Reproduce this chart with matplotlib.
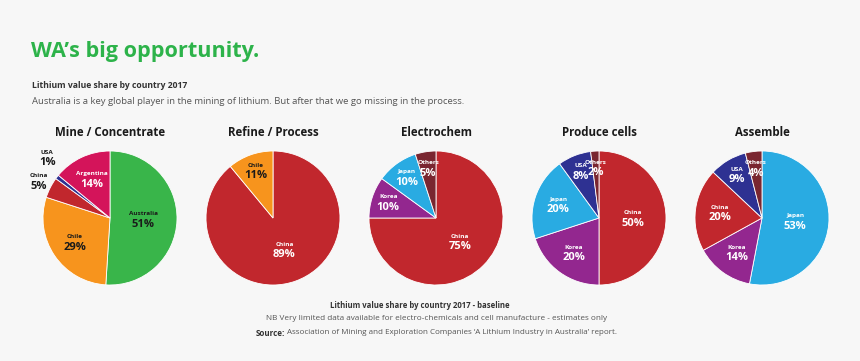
import numpy as np
import matplotlib.pyplot as plt

# data
stages = ["Mine / Concentrate", "Refine / Process", "Electrochem", "Produce cells", "Assemble"]
countries = [
    ["Australia", "Chile", "China", "USA", "Argentina"],
    ["China", "Chile"],
    ["China", "Korea", "Japan", "Others"],
    ["China", "Korea", "Japan", "USA", "Others"],
    ["Japan", "Korea", "China", "USA", "Others"],
]
shares = [
    [51, 29, 5, 1, 14],
    [89, 11],
    [75, 10, 10, 5],
    [50, 20, 20, 8, 2],
    [53, 14, 20, 9, 4],
]

colors = {
    "Australia": "#39b54a",
    "Chile": "#f7941d",
    "China": "#c1272d",
    "USA": "#2e3192",
    "Argentina": "#d4145a",
    "Korea": "#93278f",
    "Japan": "#29abe2",
    "Others": "#7a2630",
}
dark_text = {"Australia", "Chile"}
# (radius factor, extra angle in degrees) for labels drawn outside the pie
outside = {(0, "China"): (1.2, 0), (0, "USA"): (1.3, 6)}

W, H = 860, 361
bg = "#f7f7f7"
plt.rcParams["font.family"] = ["Open Sans", "DejaVu Sans"]

fig = plt.figure(figsize=(W / 100, H / 100), dpi=100, facecolor=bg)
ax = fig.add_axes([0, 0, 1, 1])
ax.set_facecolor(bg)

centers_x = [110, 273, 436, 599, 762]
cy = H - 218
R = 67

for i, stage in enumerate(stages):
    cx = centers_x[i]
    vals = shares[i]
    cols = [colors[c] for c in countries[i]]
    ax.pie(vals, colors=cols, startangle=90, counterclock=False, center=(cx, cy),
           radius=R, frame=True, wedgeprops=dict(edgecolor="white", linewidth=0.6))
    ax.text(cx, H - 132, stage, ha="center", va="center", fontsize=8.3,
            fontweight="bold", color="#1a1a1a")

    cum = np.cumsum([0] + vals)
    total = cum[-1]
    for j, name in enumerate(countries[i]):
        mid = (cum[j] + cum[j + 1]) / 2 / total
        deg = 90 - 360 * mid
        v = vals[j]
        if (i, name) in outside:
            r, extra = outside[(i, name)]
            deg -= extra
            tc = "#1a1a1a"
        else:
            r = 0.5 if v >= 40 else (0.64 if v >= 14 else 0.75)
            tc = "#1a1a1a" if name in dark_text else "white"
        ang = np.deg2rad(deg)
        lx = cx + r * R * np.cos(ang)
        ly = cy + r * R * np.sin(ang)
        ax.text(lx, ly + 5.5, name, ha="center", va="center", fontsize=4.6,
                fontweight="bold", color=tc)
        ax.text(lx, ly - 5, f"{v}%", ha="center", va="center", fontsize=8,
                fontweight="bold", color=tc)

ax.set_xlim(0, W)
ax.set_ylim(0, H)
ax.axis("off")

# headings
ax.text(31, H - 52, "WA\u2019s big opportunity.", fontsize=15.6, fontweight="bold",
        color="#2db34a", ha="left", va="center")
ax.text(32, H - 86, "Lithium value share by country 2017", fontsize=6.2,
        fontweight="bold", color="#333333", ha="left", va="center")
ax.text(32, H - 101, "Australia is a key global player in the mining of lithium. "
        "But after that we go missing in the process.", fontsize=6.8,
        color="#555555", ha="left", va="center")

# footer
ax.text(420, H - 306, "Lithium value share by country 2017 - baseline", fontsize=5.6,
        fontweight="bold", color="#333333", ha="center", va="center")
ax.text(437, H - 319, "NB Very limited data available for electro-chemicals and cell "
        "manufacture - estimates only", fontsize=5.9, color="#555555",
        ha="center", va="center")
t1 = ax.text(256, H - 333, "Source:", fontsize=5.75, fontweight="bold",
             color="#333333", ha="left", va="center")
renderer = fig.canvas.get_renderer()
bb = t1.get_window_extent(renderer)
ax.text(bb.x1 + 2, H - 333, "Association of Mining and Exploration Companies "
        "\u2018A Lithium Industry in Australia\u2019 report.", fontsize=5.75,
        color="#555555", ha="left", va="center")

fig.savefig("out.png", dpi=100, facecolor=bg)
